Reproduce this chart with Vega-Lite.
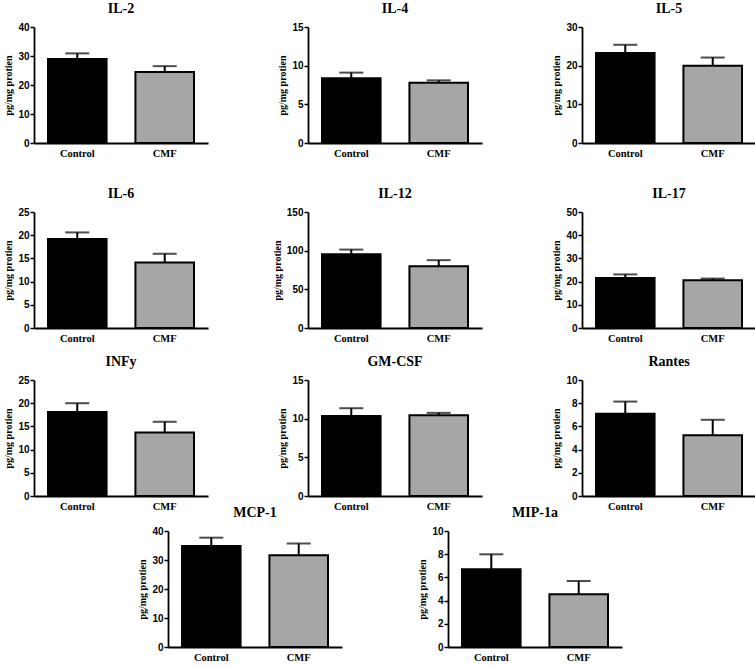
{
  "$schema": "https://vega.github.io/schema/vega-lite/v6.json",
  "padding": {"left": 3, "top": 2, "right": 4, "bottom": 2},
  "background": "white",
  "data": {"values": [
    {"cytokine": "IL-2", "group": "Control", "value": 29.0, "upper": 30.9},
    {"cytokine": "IL-2", "group": "CMF", "value": 24.5, "upper": 26.5},
    {"cytokine": "IL-4", "group": "Control", "value": 8.36, "upper": 9.1},
    {"cytokine": "IL-4", "group": "CMF", "value": 7.8, "upper": 8.1},
    {"cytokine": "IL-5", "group": "Control", "value": 23.25, "upper": 25.4},
    {"cytokine": "IL-5", "group": "CMF", "value": 20.0, "upper": 22.1},
    {"cytokine": "IL-6", "group": "Control", "value": 19.2, "upper": 20.6},
    {"cytokine": "IL-6", "group": "CMF", "value": 14.1, "upper": 16.0},
    {"cytokine": "IL-12", "group": "Control", "value": 95.4, "upper": 101.4},
    {"cytokine": "IL-12", "group": "CMF", "value": 79.9, "upper": 87.7},
    {"cytokine": "IL-17", "group": "Control", "value": 21.5, "upper": 23.1},
    {"cytokine": "IL-17", "group": "CMF", "value": 20.6, "upper": 21.3},
    {"cytokine": "INFy", "group": "Control", "value": 18.1, "upper": 20.0},
    {"cytokine": "INFy", "group": "CMF", "value": 13.7, "upper": 16.0},
    {"cytokine": "GM-CSF", "group": "Control", "value": 10.35, "upper": 11.35},
    {"cytokine": "GM-CSF", "group": "CMF", "value": 10.45, "upper": 10.75},
    {"cytokine": "Rantes", "group": "Control", "value": 7.09, "upper": 8.14},
    {"cytokine": "Rantes", "group": "CMF", "value": 5.23, "upper": 6.57},
    {"cytokine": "MCP-1", "group": "Control", "value": 34.8, "upper": 37.7},
    {"cytokine": "MCP-1", "group": "CMF", "value": 31.6, "upper": 35.7},
    {"cytokine": "MIP-1a", "group": "Control", "value": 6.7, "upper": 7.99},
    {"cytokine": "MIP-1a", "group": "CMF", "value": 4.54, "upper": 5.69}
  ]},
  "config": {
    "view": {"stroke": null},
    "title": {"font": "Liberation Serif", "fontSize": 14, "fontWeight": "bold", "color": "black", "offset": 6},
    "axis": {"domainColor": "black", "domainWidth": 1.8, "tickColor": "black", "tickWidth": 1.5, "grid": false, "labelColor": "black", "titleColor": "black"},
    "axisY": {"labelFont": "Liberation Sans", "labelFontWeight": "bold", "labelFontSize": 10, "labelOverlap": false, "tickSize": 4, "labelPadding": 1, "titleFont": "Liberation Serif", "titleFontSize": 10, "titleFontWeight": "bold", "titlePadding": 4},
    "axisX": {"labelFont": "Liberation Serif", "labelFontWeight": "bold", "labelFontSize": 10.5, "labelAngle": 0, "ticks": false, "labelPadding": 5}
  },
  "vconcat": [
    {
      "vconcat": [
        {"hconcat": [
          {"title": "IL-2", "width": 174, "height": 116, "transform": [{"filter": "datum.cytokine === 'IL-2'"}],
           "encoding": {"x": {"field": "group", "type": "nominal", "sort": ["Control", "CMF"], "scale": {"paddingInner": 0.33, "paddingOuter": 0.16}, "axis": {"title": null}}},
           "layer": [
            {"mark": {"type": "bar", "stroke": "black", "strokeWidth": 2}, "encoding": {"y": {"field": "value", "type": "quantitative", "scale": {"domain": [0, 40]}, "axis": {"values": [0, 10, 20, 30, 40], "title": "pg/mg protien"}}, "color": {"field": "group", "type": "nominal", "scale": {"domain": ["Control", "CMF"], "range": ["#000000", "#a6a6a6"]}, "legend": null}}},
            {"mark": {"type": "rule", "strokeWidth": 2, "color": "black"}, "encoding": {"y": {"field": "value", "type": "quantitative", "scale": {"domain": [0, 40]}, "axis": {"values": [0, 10, 20, 30, 40], "title": "pg/mg protien"}}, "y2": {"field": "upper"}}},
            {"mark": {"type": "tick", "size": 24, "thickness": 2, "color": "black"}, "encoding": {"y": {"field": "upper", "type": "quantitative", "scale": {"domain": [0, 40]}, "axis": {"values": [0, 10, 20, 30, 40], "title": "pg/mg protien"}}}}
           ]},
          {"title": "IL-4", "width": 174, "height": 116, "transform": [{"filter": "datum.cytokine === 'IL-4'"}],
           "encoding": {"x": {"field": "group", "type": "nominal", "sort": ["Control", "CMF"], "scale": {"paddingInner": 0.33, "paddingOuter": 0.16}, "axis": {"title": null}}},
           "layer": [
            {"mark": {"type": "bar", "stroke": "black", "strokeWidth": 2}, "encoding": {"y": {"field": "value", "type": "quantitative", "scale": {"domain": [0, 15]}, "axis": {"values": [0, 5, 10, 15], "title": "pg/mg protien"}}, "color": {"field": "group", "type": "nominal", "scale": {"domain": ["Control", "CMF"], "range": ["#000000", "#a6a6a6"]}, "legend": null}}},
            {"mark": {"type": "rule", "strokeWidth": 2, "color": "black"}, "encoding": {"y": {"field": "value", "type": "quantitative", "scale": {"domain": [0, 15]}, "axis": {"values": [0, 5, 10, 15], "title": "pg/mg protien"}}, "y2": {"field": "upper"}}},
            {"mark": {"type": "tick", "size": 24, "thickness": 2, "color": "black"}, "encoding": {"y": {"field": "upper", "type": "quantitative", "scale": {"domain": [0, 15]}, "axis": {"values": [0, 5, 10, 15], "title": "pg/mg protien"}}}}
           ]},
          {"title": "IL-5", "width": 174, "height": 116, "transform": [{"filter": "datum.cytokine === 'IL-5'"}],
           "encoding": {"x": {"field": "group", "type": "nominal", "sort": ["Control", "CMF"], "scale": {"paddingInner": 0.33, "paddingOuter": 0.16}, "axis": {"title": null}}},
           "layer": [
            {"mark": {"type": "bar", "stroke": "black", "strokeWidth": 2}, "encoding": {"y": {"field": "value", "type": "quantitative", "scale": {"domain": [0, 30]}, "axis": {"values": [0, 10, 20, 30], "title": "pg/mg protien"}}, "color": {"field": "group", "type": "nominal", "scale": {"domain": ["Control", "CMF"], "range": ["#000000", "#a6a6a6"]}, "legend": null}}},
            {"mark": {"type": "rule", "strokeWidth": 2, "color": "black"}, "encoding": {"y": {"field": "value", "type": "quantitative", "scale": {"domain": [0, 30]}, "axis": {"values": [0, 10, 20, 30], "title": "pg/mg protien"}}, "y2": {"field": "upper"}}},
            {"mark": {"type": "tick", "size": 24, "thickness": 2, "color": "black"}, "encoding": {"y": {"field": "upper", "type": "quantitative", "scale": {"domain": [0, 30]}, "axis": {"values": [0, 10, 20, 30], "title": "pg/mg protien"}}}}
           ]}
        ], "spacing": 100, "bounds": "flush"},
        {
          "vconcat": [
            {"hconcat": [
              {"title": "IL-6", "width": 174, "height": 116, "transform": [{"filter": "datum.cytokine === 'IL-6'"}],
               "encoding": {"x": {"field": "group", "type": "nominal", "sort": ["Control", "CMF"], "scale": {"paddingInner": 0.33, "paddingOuter": 0.16}, "axis": {"title": null}}},
               "layer": [
                {"mark": {"type": "bar", "stroke": "black", "strokeWidth": 2}, "encoding": {"y": {"field": "value", "type": "quantitative", "scale": {"domain": [0, 25]}, "axis": {"values": [0, 5, 10, 15, 20, 25], "title": "pg/mg protien"}}, "color": {"field": "group", "type": "nominal", "scale": {"domain": ["Control", "CMF"], "range": ["#000000", "#a6a6a6"]}, "legend": null}}},
                {"mark": {"type": "rule", "strokeWidth": 2, "color": "black"}, "encoding": {"y": {"field": "value", "type": "quantitative", "scale": {"domain": [0, 25]}, "axis": {"values": [0, 5, 10, 15, 20, 25], "title": "pg/mg protien"}}, "y2": {"field": "upper"}}},
                {"mark": {"type": "tick", "size": 24, "thickness": 2, "color": "black"}, "encoding": {"y": {"field": "upper", "type": "quantitative", "scale": {"domain": [0, 25]}, "axis": {"values": [0, 5, 10, 15, 20, 25], "title": "pg/mg protien"}}}}
               ]},
              {"title": "IL-12", "width": 174, "height": 116, "transform": [{"filter": "datum.cytokine === 'IL-12'"}],
               "encoding": {"x": {"field": "group", "type": "nominal", "sort": ["Control", "CMF"], "scale": {"paddingInner": 0.33, "paddingOuter": 0.16}, "axis": {"title": null}}},
               "layer": [
                {"mark": {"type": "bar", "stroke": "black", "strokeWidth": 2}, "encoding": {"y": {"field": "value", "type": "quantitative", "scale": {"domain": [0, 150]}, "axis": {"values": [0, 50, 100, 150], "title": "pg/mg protien"}}, "color": {"field": "group", "type": "nominal", "scale": {"domain": ["Control", "CMF"], "range": ["#000000", "#a6a6a6"]}, "legend": null}}},
                {"mark": {"type": "rule", "strokeWidth": 2, "color": "black"}, "encoding": {"y": {"field": "value", "type": "quantitative", "scale": {"domain": [0, 150]}, "axis": {"values": [0, 50, 100, 150], "title": "pg/mg protien"}}, "y2": {"field": "upper"}}},
                {"mark": {"type": "tick", "size": 24, "thickness": 2, "color": "black"}, "encoding": {"y": {"field": "upper", "type": "quantitative", "scale": {"domain": [0, 150]}, "axis": {"values": [0, 50, 100, 150], "title": "pg/mg protien"}}}}
               ]},
              {"title": "IL-17", "width": 174, "height": 116, "transform": [{"filter": "datum.cytokine === 'IL-17'"}],
               "encoding": {"x": {"field": "group", "type": "nominal", "sort": ["Control", "CMF"], "scale": {"paddingInner": 0.33, "paddingOuter": 0.16}, "axis": {"title": null}}},
               "layer": [
                {"mark": {"type": "bar", "stroke": "black", "strokeWidth": 2}, "encoding": {"y": {"field": "value", "type": "quantitative", "scale": {"domain": [0, 50]}, "axis": {"values": [0, 10, 20, 30, 40, 50], "title": "pg/mg protien"}}, "color": {"field": "group", "type": "nominal", "scale": {"domain": ["Control", "CMF"], "range": ["#000000", "#a6a6a6"]}, "legend": null}}},
                {"mark": {"type": "rule", "strokeWidth": 2, "color": "black"}, "encoding": {"y": {"field": "value", "type": "quantitative", "scale": {"domain": [0, 50]}, "axis": {"values": [0, 10, 20, 30, 40, 50], "title": "pg/mg protien"}}, "y2": {"field": "upper"}}},
                {"mark": {"type": "tick", "size": 24, "thickness": 2, "color": "black"}, "encoding": {"y": {"field": "upper", "type": "quantitative", "scale": {"domain": [0, 50]}, "axis": {"values": [0, 10, 20, 30, 40, 50], "title": "pg/mg protien"}}}}
               ]}
            ], "spacing": 100, "bounds": "flush"},
            {"hconcat": [
              {"title": "INFy", "width": 174, "height": 116, "transform": [{"filter": "datum.cytokine === 'INFy'"}],
               "encoding": {"x": {"field": "group", "type": "nominal", "sort": ["Control", "CMF"], "scale": {"paddingInner": 0.33, "paddingOuter": 0.16}, "axis": {"title": null}}},
               "layer": [
                {"mark": {"type": "bar", "stroke": "black", "strokeWidth": 2}, "encoding": {"y": {"field": "value", "type": "quantitative", "scale": {"domain": [0, 25]}, "axis": {"values": [0, 5, 10, 15, 20, 25], "title": "pg/mg protien"}}, "color": {"field": "group", "type": "nominal", "scale": {"domain": ["Control", "CMF"], "range": ["#000000", "#a6a6a6"]}, "legend": null}}},
                {"mark": {"type": "rule", "strokeWidth": 2, "color": "black"}, "encoding": {"y": {"field": "value", "type": "quantitative", "scale": {"domain": [0, 25]}, "axis": {"values": [0, 5, 10, 15, 20, 25], "title": "pg/mg protien"}}, "y2": {"field": "upper"}}},
                {"mark": {"type": "tick", "size": 24, "thickness": 2, "color": "black"}, "encoding": {"y": {"field": "upper", "type": "quantitative", "scale": {"domain": [0, 25]}, "axis": {"values": [0, 5, 10, 15, 20, 25], "title": "pg/mg protien"}}}}
               ]},
              {"title": "GM-CSF", "width": 174, "height": 116, "transform": [{"filter": "datum.cytokine === 'GM-CSF'"}],
               "encoding": {"x": {"field": "group", "type": "nominal", "sort": ["Control", "CMF"], "scale": {"paddingInner": 0.33, "paddingOuter": 0.16}, "axis": {"title": null}}},
               "layer": [
                {"mark": {"type": "bar", "stroke": "black", "strokeWidth": 2}, "encoding": {"y": {"field": "value", "type": "quantitative", "scale": {"domain": [0, 15]}, "axis": {"values": [0, 5, 10, 15], "title": "pg/mg protien"}}, "color": {"field": "group", "type": "nominal", "scale": {"domain": ["Control", "CMF"], "range": ["#000000", "#a6a6a6"]}, "legend": null}}},
                {"mark": {"type": "rule", "strokeWidth": 2, "color": "black"}, "encoding": {"y": {"field": "value", "type": "quantitative", "scale": {"domain": [0, 15]}, "axis": {"values": [0, 5, 10, 15], "title": "pg/mg protien"}}, "y2": {"field": "upper"}}},
                {"mark": {"type": "tick", "size": 24, "thickness": 2, "color": "black"}, "encoding": {"y": {"field": "upper", "type": "quantitative", "scale": {"domain": [0, 15]}, "axis": {"values": [0, 5, 10, 15], "title": "pg/mg protien"}}}}
               ]},
              {"title": "Rantes", "width": 174, "height": 116, "transform": [{"filter": "datum.cytokine === 'Rantes'"}],
               "encoding": {"x": {"field": "group", "type": "nominal", "sort": ["Control", "CMF"], "scale": {"paddingInner": 0.33, "paddingOuter": 0.16}, "axis": {"title": null}}},
               "layer": [
                {"mark": {"type": "bar", "stroke": "black", "strokeWidth": 2}, "encoding": {"y": {"field": "value", "type": "quantitative", "scale": {"domain": [0, 10]}, "axis": {"values": [0, 2, 4, 6, 8, 10], "title": "pg/mg protien"}}, "color": {"field": "group", "type": "nominal", "scale": {"domain": ["Control", "CMF"], "range": ["#000000", "#a6a6a6"]}, "legend": null}}},
                {"mark": {"type": "rule", "strokeWidth": 2, "color": "black"}, "encoding": {"y": {"field": "value", "type": "quantitative", "scale": {"domain": [0, 10]}, "axis": {"values": [0, 2, 4, 6, 8, 10], "title": "pg/mg protien"}}, "y2": {"field": "upper"}}},
                {"mark": {"type": "tick", "size": 24, "thickness": 2, "color": "black"}, "encoding": {"y": {"field": "upper", "type": "quantitative", "scale": {"domain": [0, 10]}, "axis": {"values": [0, 2, 4, 6, 8, 10], "title": "pg/mg protien"}}}}
               ]}
            ], "spacing": 100, "bounds": "flush"}
          ],
          "spacing": 11
        }
      ],
      "spacing": 28
    },
    {"hconcat": [
      {"title": "MCP-1", "width": 174, "height": 116, "transform": [{"filter": "datum.cytokine === 'MCP-1'"}],
       "encoding": {"x": {"field": "group", "type": "nominal", "sort": ["Control", "CMF"], "scale": {"paddingInner": 0.33, "paddingOuter": 0.16}, "axis": {"title": null}}},
       "layer": [
        {"mark": {"type": "bar", "stroke": "black", "strokeWidth": 2}, "encoding": {"y": {"field": "value", "type": "quantitative", "scale": {"domain": [0, 40]}, "axis": {"values": [0, 10, 20, 30, 40], "title": "pg/mg protien"}}, "color": {"field": "group", "type": "nominal", "scale": {"domain": ["Control", "CMF"], "range": ["#000000", "#a6a6a6"]}, "legend": null}}},
        {"mark": {"type": "rule", "strokeWidth": 2, "color": "black"}, "encoding": {"y": {"field": "value", "type": "quantitative", "scale": {"domain": [0, 40]}, "axis": {"values": [0, 10, 20, 30, 40], "title": "pg/mg protien"}}, "y2": {"field": "upper"}}},
        {"mark": {"type": "tick", "size": 24, "thickness": 2, "color": "black"}, "encoding": {"y": {"field": "upper", "type": "quantitative", "scale": {"domain": [0, 40]}, "axis": {"values": [0, 10, 20, 30, 40], "title": "pg/mg protien"}}}}
       ]},
      {"title": "MIP-1a", "width": 174, "height": 116, "transform": [{"filter": "datum.cytokine === 'MIP-1a'"}],
       "encoding": {"x": {"field": "group", "type": "nominal", "sort": ["Control", "CMF"], "scale": {"paddingInner": 0.33, "paddingOuter": 0.16}, "axis": {"title": null}}},
       "layer": [
        {"mark": {"type": "bar", "stroke": "black", "strokeWidth": 2}, "encoding": {"y": {"field": "value", "type": "quantitative", "scale": {"domain": [0, 10]}, "axis": {"values": [0, 2, 4, 6, 8, 10], "title": "pg/mg protien"}}, "color": {"field": "group", "type": "nominal", "scale": {"domain": ["Control", "CMF"], "range": ["#000000", "#a6a6a6"]}, "legend": null}}},
        {"mark": {"type": "rule", "strokeWidth": 2, "color": "black"}, "encoding": {"y": {"field": "value", "type": "quantitative", "scale": {"domain": [0, 10]}, "axis": {"values": [0, 2, 4, 6, 8, 10], "title": "pg/mg protien"}}, "y2": {"field": "upper"}}},
        {"mark": {"type": "tick", "size": 24, "thickness": 2, "color": "black"}, "encoding": {"y": {"field": "upper", "type": "quantitative", "scale": {"domain": [0, 10]}, "axis": {"values": [0, 2, 4, 6, 8, 10], "title": "pg/mg protien"}}}}
       ]}
    ], "spacing": 106, "bounds": "flush"}
  ],
  "spacing": -6,
  "center": true
}
